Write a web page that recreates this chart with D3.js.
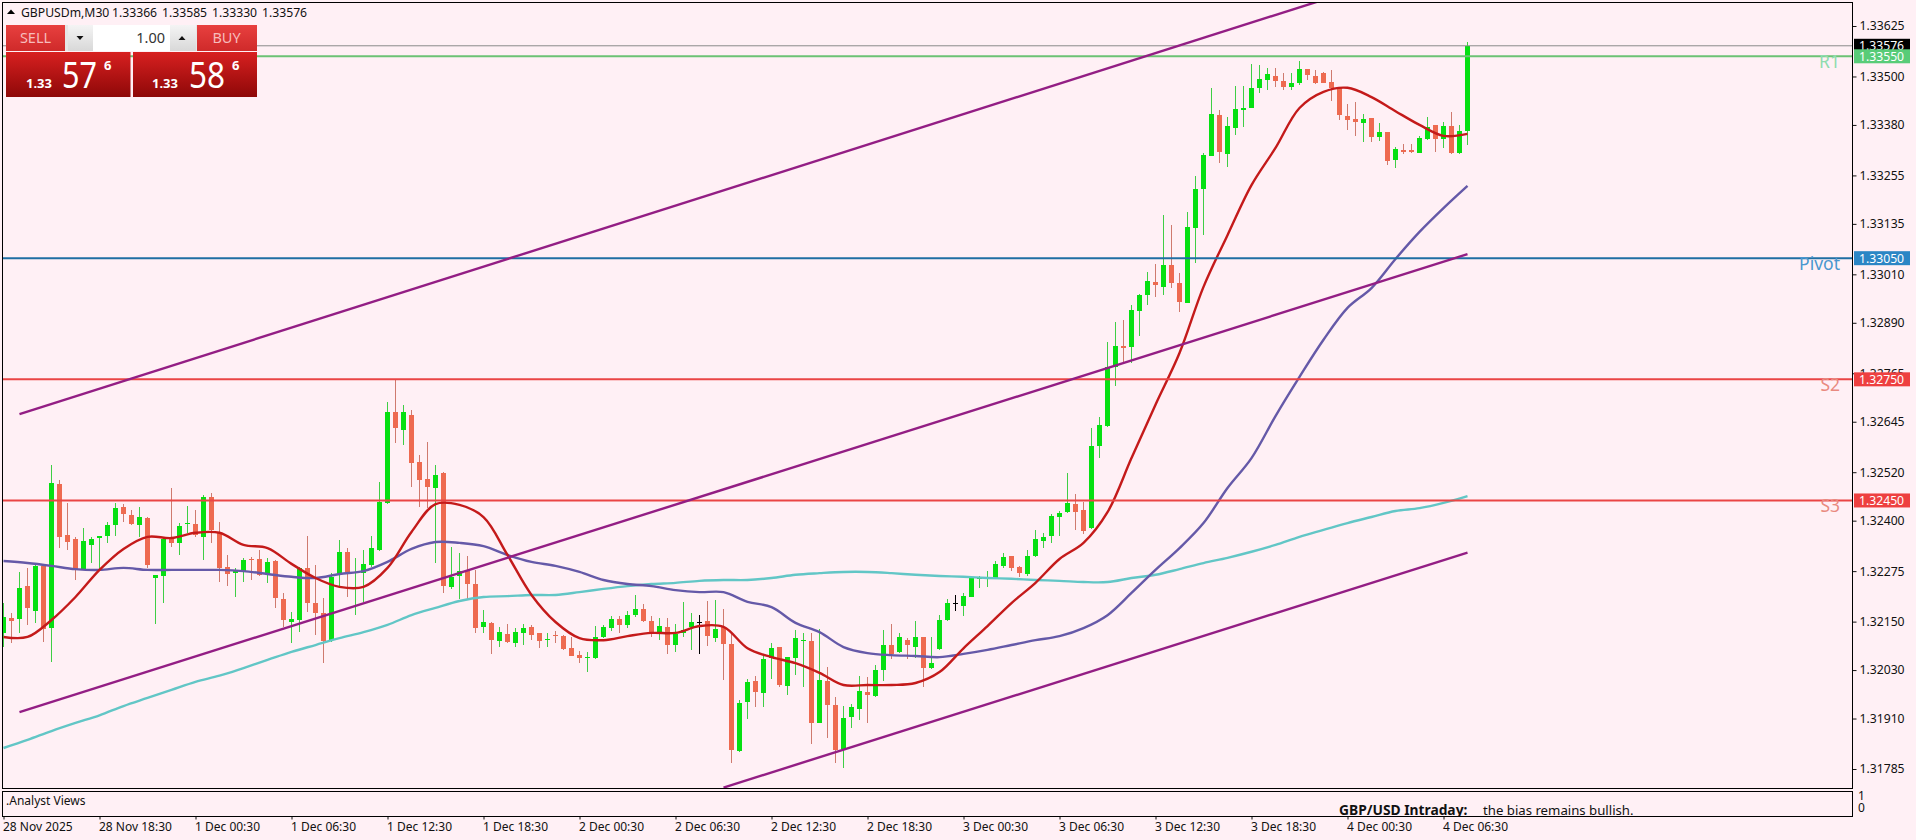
<!DOCTYPE html>
<html>
<head>
<meta charset="UTF-8">
<title>GBPUSDm,M30</title>
<script src="https://d3js.org/d3.v7.min.js" charset="utf-8"></script>
<style>
    html, body { margin: 0; padding: 0; background: #fff0f5; overflow: hidden; }
    text { font-family: "Noto Sans", sans-serif; }
</style>
</head>
<body>
<svg id="chart" width="1916" height="840"></svg>
<script>
// M30 candles
var opens = [
1.32122,1.32159,1.32157,1.32238,1.32176,1.32288,1.32134,1.32491,1.32365,1.32355,
1.32280,1.32340,1.32357,1.32362,1.32390,1.32434,1.32414,1.32390,1.32407,1.32258,
1.32263,1.32360,1.32345,1.32392,1.32392,1.32360,1.32459,1.32370,1.32285,1.32270,
1.32275,1.32305,1.32305,1.32270,1.32300,1.32206,1.32149,1.32154,1.32283,1.32196,
1.32171,1.32104,1.32266,1.32323,1.32270,1.32270,1.32290,1.32328,1.32444,1.32669,
1.32625,1.32662,1.32545,1.32503,1.32481,1.32518,1.32236,1.32263,1.32278,1.32243,
1.32137,1.32147,1.32102,1.32119,1.32097,1.32122,1.32137,1.32122,1.32104,1.32117,
1.32114,1.32084,1.32067,1.32060,1.32060,1.32112,1.32134,1.32157,1.32142,1.32166,
1.32181,1.32152,1.32122,1.32137,1.32092,1.32122,1.32137,1.32149,1.32152,1.32109,
1.32137,1.32094,1.31830,1.31951,1.32003,1.31973,1.32060,1.32087,1.31991,1.32060,
1.32102,1.32102,1.31899,1.32003,1.31944,1.31835,1.31914,1.31934,1.31976,1.31966,
1.32030,1.32092,1.32075,1.32104,1.32087,1.32112,1.32035,1.32082,1.32154,1.32196,
1.32189,1.32211,1.32256,1.32258,1.32258,1.32288,1.32313,1.32285,1.32268,1.32313,
1.32350,1.32362,1.32409,1.32421,1.32441,1.32426,1.32382,1.32585,1.32635,1.32781,
1.32833,1.32830,1.32920,1.32959,1.32992,1.32979,1.33033,1.32989,1.32940,1.33125,
1.33221,1.33303,1.33405,1.33308,1.33373,1.33417,1.33422,1.33472,1.33492,1.33501,
1.33489,1.33474,1.33484,1.33519,1.33501,1.33509,1.33486,1.33472,1.33402,1.33395,
1.33385,1.33397,1.33350,1.33362,1.33293,1.33318,1.33318,1.33311,1.33345,1.33380,
1.33345,1.33378,1.33311,1.33366];
var highs = [
1.32196,1.32171,1.32273,1.32283,1.32295,1.32293,1.32538,1.32501,1.32444,1.32360,
1.32382,1.32360,1.32362,1.32397,1.32444,1.32441,1.32426,1.32434,1.32409,1.32266,
1.32360,1.32481,1.32394,1.32436,1.32426,1.32464,1.32468,1.32397,1.32315,1.32283,
1.32308,1.32310,1.32328,1.32308,1.32303,1.32221,1.32174,1.32285,1.32362,1.32290,
1.32208,1.32270,1.32352,1.32332,1.32308,1.32328,1.32362,1.32496,1.32694,1.32751,
1.32687,1.32674,1.32563,1.32595,1.32538,1.32521,1.32335,1.32320,1.32313,1.32278,
1.32179,1.32149,1.32137,1.32144,1.32134,1.32144,1.32142,1.32122,1.32122,1.32127,
1.32117,1.32112,1.32077,1.32075,1.32139,1.32142,1.32164,1.32164,1.32176,1.32216,
1.32194,1.32164,1.32159,1.32159,1.32144,1.32199,1.32171,1.32166,1.32201,1.32204,
1.32181,1.32119,1.31956,1.32008,1.32016,1.32067,1.32097,1.32087,1.32062,1.32129,
1.32122,1.32122,1.32132,1.32038,1.31964,1.31941,1.31946,1.32016,1.32013,1.32043,
1.32129,1.32144,1.32122,1.32109,1.32152,1.32112,1.32112,1.32166,1.32206,1.32216,
1.32221,1.32263,1.32263,1.32275,1.32300,1.32320,1.32313,1.32288,1.32328,1.32377,
1.32370,1.32416,1.32424,1.32518,1.32466,1.32446,1.32630,1.32657,1.32843,1.32893,
1.32897,1.32935,1.32962,1.33016,1.33035,1.33157,1.33132,1.33014,1.33164,1.33254,
1.33311,1.33472,1.33417,1.33400,1.33477,1.33477,1.33531,1.33529,1.33521,1.33521,
1.33509,1.33509,1.33539,1.33519,1.33516,1.33511,1.33516,1.33472,1.33432,1.33437,
1.33407,1.33397,1.33385,1.33362,1.33325,1.33333,1.33333,1.33353,1.33400,1.33380,
1.33387,1.33412,1.33380,1.33585];
var lows = [
1.32087,1.32097,1.32122,1.32142,1.32147,1.32099,1.32050,1.32332,1.32328,1.32253,
1.32278,1.32295,1.32280,1.32345,1.32362,1.32397,1.32390,1.32360,1.32283,1.32144,
1.32196,1.32335,1.32315,1.32370,1.32360,1.32303,1.32345,1.32248,1.32238,1.32211,
1.32248,1.32253,1.32263,1.32246,1.32184,1.32137,1.32097,1.32124,1.32174,1.32117,
1.32047,1.32099,1.32236,1.32211,1.32166,1.32199,1.32285,1.32325,1.32441,1.32592,
1.32587,1.32483,1.32434,1.32431,1.32295,1.32221,1.32231,1.32206,1.32206,1.32122,
1.32122,1.32070,1.32087,1.32097,1.32087,1.32092,1.32104,1.32084,1.32087,1.32097,
1.32080,1.32065,1.32047,1.32025,1.32057,1.32109,1.32127,1.32122,1.32134,1.32161,
1.32149,1.32112,1.32104,1.32070,1.32075,1.32112,1.32080,1.32070,1.32089,1.32099,
1.32006,1.31800,1.31827,1.31909,1.31939,1.31939,1.32008,1.31988,1.31969,1.32018,
1.31988,1.31847,1.31899,1.31862,1.31800,1.31787,1.31887,1.31906,1.31899,1.31963,
1.32003,1.32057,1.32072,1.32057,1.32060,1.31988,1.32033,1.32080,1.32152,1.32176,
1.32164,1.32211,1.32233,1.32236,1.32256,1.32283,1.32275,1.32261,1.32263,1.32310,
1.32332,1.32345,1.32362,1.32419,1.32377,1.32367,1.32380,1.32555,1.32632,1.32734,
1.32791,1.32791,1.32858,1.32935,1.32954,1.32959,1.32976,1.32917,1.32940,1.33038,
1.33107,1.33303,1.33286,1.33276,1.33355,1.33375,1.33422,1.33459,1.33467,1.33474,
1.33467,1.33467,1.33479,1.33492,1.33482,1.33484,1.33439,1.33392,1.33367,1.33352,
1.33338,1.33338,1.33340,1.33281,1.33273,1.33308,1.33311,1.33311,1.33343,1.33313,
1.33323,1.33308,1.33308,1.33330];
var closes = [
1.32161,1.32152,1.32233,1.32184,1.32288,1.32132,1.32493,1.32360,1.32347,1.32280,
1.32350,1.32355,1.32362,1.32390,1.32431,1.32416,1.32392,1.32409,1.32290,1.32266,
1.32355,1.32345,1.32387,1.32394,1.32365,1.32459,1.32377,1.32283,1.32268,1.32275,
1.32303,1.32303,1.32266,1.32298,1.32208,1.32154,1.32157,1.32283,1.32196,1.32171,
1.32102,1.32261,1.32323,1.32273,1.32273,1.32293,1.32332,1.32446,1.32669,1.32630,
1.32669,1.32543,1.32501,1.32483,1.32513,1.32238,1.32261,1.32275,1.32243,1.32134,
1.32149,1.32104,1.32124,1.32099,1.32124,1.32134,1.32117,1.32102,1.32107,1.32114,
1.32082,1.32065,1.32060,1.32062,1.32112,1.32137,1.32157,1.32142,1.32166,1.32181,
1.32152,1.32122,1.32139,1.32092,1.32119,1.32129,1.32149,1.32149,1.32114,1.32132,
1.32094,1.31832,1.31949,1.32001,1.31976,1.32057,1.32084,1.31993,1.32062,1.32109,
1.32104,1.31899,1.32006,1.31944,1.31832,1.31911,1.31939,1.31978,1.31969,1.32030,
1.32092,1.32070,1.32112,1.32092,1.32112,1.32035,1.32047,1.32154,1.32196,1.32196,
1.32213,1.32261,1.32261,1.32261,1.32293,1.32310,1.32283,1.32270,1.32313,1.32355,
1.32360,1.32411,1.32419,1.32444,1.32421,1.32375,1.32585,1.32637,1.32781,1.32833,
1.32828,1.32922,1.32959,1.32994,1.32984,1.33033,1.32989,1.32942,1.33127,1.33221,
1.33306,1.33407,1.33313,1.33378,1.33420,1.33422,1.33472,1.33494,1.33506,1.33489,
1.33474,1.33484,1.33519,1.33504,1.33484,1.33484,1.33472,1.33405,1.33392,1.33387,
1.33395,1.33350,1.33362,1.33291,1.33320,1.33313,1.33313,1.33348,1.33375,1.33345,
1.33378,1.33311,1.33365,1.33576];

// moving averages, one reading every third bar
var maStep = 3;
var maFast = [
1.32112,1.32112,1.32154,1.32211,1.32278,1.32330,1.32360,1.32357,1.32370,1.32370,
1.32340,1.32332,1.32293,1.32258,1.32236,1.32236,1.32283,1.32372,1.32441,1.32439,
1.32409,1.32315,1.32216,1.32149,1.32109,1.32104,1.32114,1.32122,1.32122,1.32139,
1.32137,1.32084,1.32062,1.32047,1.32023,1.31993,1.31993,1.31993,1.31998,1.32025,
1.32084,1.32139,1.32196,1.32246,1.32305,1.32345,1.32421,1.32555,1.32687,1.32815,
1.32979,1.33107,1.33231,1.33323,1.33422,1.33462,1.33472,1.33449,1.33414,1.33380,
1.33353,1.33358];
var maMid = [
1.32300,1.32295,1.32288,1.32280,1.32278,1.32283,1.32278,1.32278,1.32278,1.32278,
1.32275,1.32268,1.32261,1.32258,1.32268,1.32275,1.32298,1.32330,1.32347,1.32345,
1.32337,1.32315,1.32298,1.32288,1.32273,1.32253,1.32243,1.32238,1.32228,1.32223,
1.32223,1.32199,1.32186,1.32147,1.32124,1.32087,1.32072,1.32067,1.32065,1.32062,
1.32070,1.32080,1.32092,1.32104,1.32114,1.32134,1.32166,1.32221,1.32278,1.32332,
1.32394,1.32481,1.32555,1.32659,1.32756,1.32848,1.32927,1.32976,1.33048,1.33115,
1.33174,1.33229];
var maSlow = [
1.31837,1.31857,1.31879,1.31899,1.31918,1.31941,1.31961,1.31981,1.32001,1.32016,
1.32035,1.32055,1.32075,1.32092,1.32109,1.32124,1.32142,1.32166,1.32184,1.32201,
1.32211,1.32213,1.32216,1.32216,1.32223,1.32231,1.32238,1.32243,1.32246,1.32251,
1.32253,1.32253,1.32258,1.32266,1.32270,1.32273,1.32273,1.32270,1.32266,1.32263,
1.32261,1.32258,1.32256,1.32253,1.32251,1.32248,1.32248,1.32258,1.32266,1.32280,
1.32295,1.32308,1.32323,1.32340,1.32360,1.32377,1.32394,1.32409,1.32424,1.32431,
1.32444,1.32461];

// channel lines, start and end as [bar, price]
var channelUpper = [[2, 1.32664], [165, 1.33690]];
var channelMiddle = [[2, 1.31926], [183, 1.33060]];
var channelLower = [[90, 1.31739], [183, 1.32321]];

var priceTicks = [1.33625,1.33500,1.33380,1.33255,1.33135,1.33010,1.32890,1.32765,1.32645,1.32520,1.32400,1.32275,1.32150,1.32030,1.31910,1.31785];
var dateBars = [0,12,24,36,48,60,72,84,96,108,120,132,144,156,168,180];
var dateLabels = ["28 Nov 2025","28 Nov 18:30","1 Dec 00:30","1 Dec 06:30","1 Dec 12:30","1 Dec 18:30","2 Dec 00:30","2 Dec 06:30","2 Dec 12:30","2 Dec 18:30","3 Dec 00:30","3 Dec 06:30","3 Dec 12:30","3 Dec 18:30","4 Dec 00:30","4 Dec 06:30"];

var levelNames = ["R1","Pivot","S2","S3"];
var levelPrices = [1.33550,1.33050,1.32750,1.32450];
var levelColors = ["#6cc274","#1f6fa3","#ea4545","#ea4545"];
var levelTextColors = ["#8fdcae","#4a97cf","#e98a80","#e98a80"];
var levelBoxColors = ["#58cc78","#2b86c5","#ee4040","#ee4040"];
var lastPrice = 1.33576;

var svg = d3.select("#chart");
var axisX = 1852.5, mainTop = 2.5, mainBottom = 788.5, subTop = 791.5, subBottom = 816.5;

var x = d3.scaleLinear().domain([0, 183]).range([3.5, 1467.5]);
var y = d3.scaleLinear().domain([1.33625, 1.31785]).range([26, 769]);

var defs = svg.append("defs");
defs.append("clipPath").attr("id", "main-clip").append("rect")
    .attr("x", 3).attr("y", 3).attr("width", axisX - 3).attr("height", mainBottom - 3);
defs.append("clipPath").attr("id", "sub-clip").append("rect")
    .attr("x", 3).attr("y", subTop).attr("width", axisX - 3).attr("height", subBottom - subTop);

function gradient(id, top, bottom) {
    var g = defs.append("linearGradient").attr("id", id).attr("x1", 0).attr("y1", 0).attr("x2", 0).attr("y2", 1);
    g.append("stop").attr("offset", 0).attr("stop-color", top);
    g.append("stop").attr("offset", 1).attr("stop-color", bottom);
}
gradient("btn-red", "#e8403f", "#cf2a2a");
gradient("price-red", "#d82020", "#8e0808");
gradient("btn-gray", "#f4f4f4", "#d8d8d8");

// price axis
var priceAxis = d3.axisRight(y).tickValues(priceTicks).tickFormat(d3.format(".5f")).tickSize(4).tickPadding(3);
var axisG = svg.append("g").attr("transform", "translate(" + axisX + ",0)").call(priceAxis);
axisG.select(".domain").remove();
axisG.selectAll("text").style("font-size", "12.2px").attr("fill", "#111");
axisG.selectAll("line").attr("stroke", "#111");

// date axis
var dateAxis = d3.axisBottom(x).tickValues(dateBars)
    .tickFormat(function (d) { return dateLabels[dateBars.indexOf(d)]; })
    .tickSize(3).tickPadding(3);
var dateG = svg.append("g").attr("transform", "translate(0," + subBottom + ")").call(dateAxis);
dateG.select(".domain").remove();
dateG.selectAll("text").attr("text-anchor", "start").attr("dx", -1).style("font-size", "12px").attr("fill", "#111");
dateG.selectAll("line").attr("stroke", "#111");

var plot = svg.append("g").attr("clip-path", "url(#main-clip)");

function candleColor(i) {
    if (closes[i] > opens[i]) return "#06e012";
    if (closes[i] < opens[i]) return "#ee6a50";
    return "#000";
}
function wickColor(i) {
    if (closes[i] > opens[i]) return "#3fce45";
    if (closes[i] < opens[i]) return "#cf7a6e";
    return "#000";
}

var bars = d3.range(opens.length);

plot.append("g").attr("shape-rendering", "crispEdges").selectAll("line").data(bars).enter().append("line")
    .attr("x1", function (i) { return x(i); })
    .attr("x2", function (i) { return x(i); })
    .attr("y1", function (i) { return y(highs[i]); })
    .attr("y2", function (i) { return y(lows[i]); })
    .attr("stroke", wickColor);

plot.append("g").attr("shape-rendering", "crispEdges").selectAll("rect").data(bars).enter().append("rect")
    .attr("x", function (i) { return x(i) - 2.5; })
    .attr("width", 5)
    .attr("y", function (i) { return y(Math.max(opens[i], closes[i])); })
    .attr("height", function (i) { return Math.max(1, Math.abs(y(opens[i]) - y(closes[i]))); })
    .attr("fill", candleColor);

var maLine = d3.line()
    .x(function (d, i) { return x(i * maStep); })
    .y(function (d) { return y(d); })
    .curve(d3.curveCatmullRom.alpha(0.5));

function drawMa(values, color) {
    plot.append("path").datum(values).attr("d", maLine)
        .attr("fill", "none").attr("stroke", color).attr("stroke-width", 2.4);
}
drawMa(maSlow, "#62c6c6");
drawMa(maMid, "#6559a8");
drawMa(maFast, "#c41a1a");

// current price line and pivot levels
plot.append("line").attr("x1", 3).attr("x2", axisX)
    .attr("y1", y(lastPrice)).attr("y2", y(lastPrice)).attr("stroke", "#8a8a8a").attr("stroke-width", 1);

plot.append("g").selectAll("line").data(levelPrices).enter().append("line")
    .attr("x1", 3).attr("x2", axisX)
    .attr("y1", function (d) { return y(d); })
    .attr("y2", function (d) { return y(d); })
    .attr("stroke", function (d, i) { return levelColors[i]; })
    .attr("stroke-width", 2);

// channel
var trendLine = d3.line().x(function (d) { return x(d[0]); }).y(function (d) { return y(d[1]); });
[channelUpper, channelMiddle, channelLower].forEach(function (c) {
    plot.append("path").datum(c).attr("d", trendLine)
        .attr("fill", "none").attr("stroke", "#931e84").attr("stroke-width", 2.4);
});

svg.append("g").selectAll("text").data(levelNames).enter().append("text")
    .attr("x", 1840)
    .attr("y", function (d, i) { return y(levelPrices[i]) + 12; })
    .attr("text-anchor", "end")
    .attr("fill", function (d, i) { return levelTextColors[i]; })
    .style("font-size", "17.5px")
    .text(function (d) { return d; });

// frames
[[3, mainTop, mainBottom], [3, subTop, subBottom]].forEach(function (f) {
    svg.append("rect").attr("x", 2.5).attr("y", f[1]).attr("width", axisX - 2.5).attr("height", f[2] - f[1])
        .attr("fill", "none").attr("stroke", "#000").attr("stroke-width", 1);
});

// price tags on the axis
var tags = svg.append("g");
function priceTag(price, fill) {
    tags.append("rect").attr("x", 1854).attr("y", y(price) - 7).attr("width", 56).attr("height", 14).attr("fill", fill);
    tags.append("text").attr("x", 1859).attr("y", y(price) + 4.5).attr("fill", "#fff")
        .style("font-size", "12.2px").text(d3.format(".5f")(price));
}
priceTag(lastPrice, "#000");
levelPrices.forEach(function (p, i) { priceTag(p, levelBoxColors[i]); });

// sub window
var sub = svg.append("g");
sub.append("text").attr("x", 6).attr("y", 805).style("font-size", "12px").attr("fill", "#111").text(".Analyst Views");
sub.append("text").attr("x", 1858).attr("y", 800).style("font-size", "12px").attr("fill", "#111").text("1");
sub.append("text").attr("x", 1858).attr("y", 812).style("font-size", "12px").attr("fill", "#111").text("0");
var note = sub.append("g").attr("clip-path", "url(#sub-clip)");
note.append("text").attr("x", 1339).attr("y", 815).style("font-size", "13.8px").style("font-weight", "bold").attr("fill", "#111").text("GBP/USD Intraday:");
note.append("text").attr("x", 1483).attr("y", 815).style("font-size", "13.2px").attr("fill", "#111").text("the bias remains bullish.");

// header
var header = svg.append("g");
header.append("path").attr("d", "M7,14L11,9.5L15,14Z").attr("fill", "#000");
header.append("text").attr("x", 21).attr("y", 17).style("font-size", "12.2px").attr("fill", "#111").text("GBPUSDm,M30");
["1.33366", "1.33585", "1.33330", "1.33576"].forEach(function (t, i) {
    header.append("text").attr("x", 112 + i * 50).attr("y", 17).style("font-size", "12.2px").attr("fill", "#111").text(t);
});

// one click trading panel
var panel = svg.append("g");
function box(px, py, w, h, fill) {
    panel.append("rect").attr("x", px).attr("y", py).attr("width", w).attr("height", h).attr("fill", fill);
}
function label(px, py, size, txt, color, anchor, weight) {
    return panel.append("text").attr("x", px).attr("y", py).attr("fill", color)
        .attr("text-anchor", anchor || "start")
        .style("font-size", size + "px").style("font-weight", weight || "normal").text(txt);
}
box(6, 25, 59, 26, "url(#btn-red)");
box(197, 25, 60, 26, "url(#btn-red)");
box(65, 25, 132, 26, "#e6e6e6");
box(68, 25, 25, 26, "url(#btn-gray)");
box(93, 25, 77, 26, "#fff");
box(170, 25, 26, 26, "url(#btn-gray)");
panel.append("path").attr("d", "M76.5,36L83.5,36L80,40Z").attr("fill", "#111");
panel.append("path").attr("d", "M178.5,40L185.5,40L182,36Z").attr("fill", "#111");
label(35.5, 43, 14.5, "SELL", "#f7bcbc", "middle");
label(226.5, 43, 14.5, "BUY", "#f7bcbc", "middle");
label(165, 43, 14.5, "1.00", "#333", "end");
box(6, 52, 124.5, 45, "url(#price-red)");
box(133, 52, 124, 45, "url(#price-red)");
label(26, 88, 13, "1.33", "#fff", "start", "bold");
label(62, 88, 36, "57", "#fff").attr("textLength", 35).attr("lengthAdjust", "spacingAndGlyphs");
label(104, 70, 13, "6", "#fff", "start", "bold");
label(152, 88, 13, "1.33", "#fff", "start", "bold");
label(189, 88, 36, "58", "#fff").attr("textLength", 36).attr("lengthAdjust", "spacingAndGlyphs");
label(232, 70, 13, "6", "#fff", "start", "bold");
</script>
</body>
</html>
